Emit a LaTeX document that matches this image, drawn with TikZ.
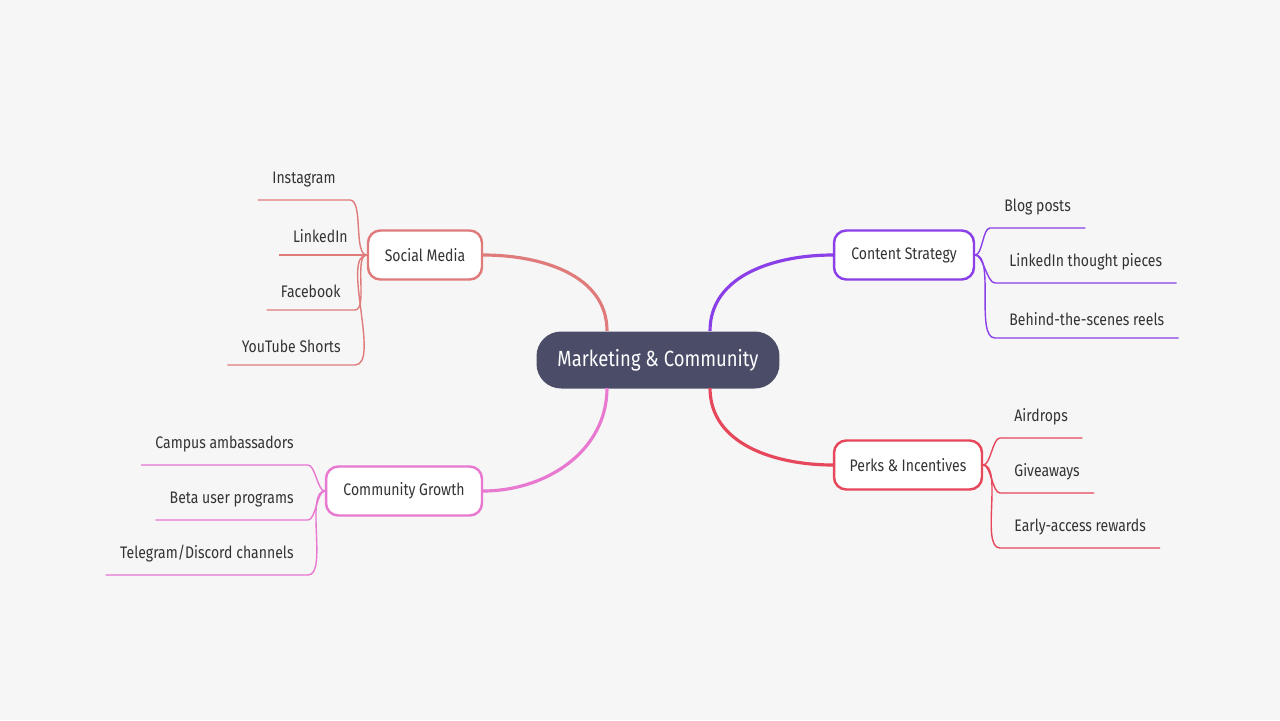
\documentclass[tikz,border=0pt]{standalone}
\usepackage{fontspec}
\setmainfont{Fira Sans}[FakeStretch=0.84]
\usetikzlibrary{positioning}
\definecolor{bgc}{HTML}{F6F6F6}
\definecolor{hubc}{HTML}{4A4C68}
\definecolor{socc}{HTML}{E07B7B}
\definecolor{conc}{HTML}{8A3FE8}
\definecolor{perc}{HTML}{E6475A}
\definecolor{comc}{HTML}{E878D0}
\definecolor{txtc}{HTML}{333333}
\tikzset{
  hub/.style={fill=hubc, text=white, rounded corners=14pt, minimum width=4.86cm, minimum height=1.14cm, font=\fontsize{12.5}{14}\selectfont},
  topic/.style={draw=#1, line width=1.4pt, fill=white, rounded corners=7pt, minimum height=0.98cm, inner xsep=8pt, text=txtc, font=\fontsize{9.5}{11}\selectfont},
  leaf/.style={text=txtc, inner xsep=8pt, inner ysep=7pt, font=\fontsize{9.5}{11}\selectfont},
  branch/.style={draw=#1, line width=1.8pt},
  twig/.style={draw=#1, line width=0.8pt, looseness=0.6}
}
\begin{document}
\begin{tikzpicture}[x=0.02cm, y=-0.02cm]
    \fill[bgc] (0,0) rectangle (1280,720);
    \useasboundingbox (0,0) rectangle (1280,720);

    \node[hub] (hub) at (658,360) {Marketing \& Community};

    % topics
    \node[topic=socc, minimum width=2.28cm] (social) at (425,255) {Social Media};
    \node[topic=conc, minimum width=2.8cm] (content) at (904,255) {Content Strategy};
    \node[topic=perc, minimum width=2.96cm] (perks) at (908,465) {Perks \& Incentives};
    \node[topic=comc, minimum width=3.12cm] (growth) at (404,491) {Community Growth};

    \draw[branch=socc] (607,331) to[out=90,in=0] (social.east);
    \draw[branch=conc] (710,331) to[out=90,in=180] (content.west);
    \draw[branch=perc] (710,388) to[out=-90,in=180] (perks.west);
    \draw[branch=comc] (607,388) to[out=-90,in=0] (growth.east);

    % social media leaves
    \node[leaf, anchor=south east] (insta) at (350,200) {Instagram};
    \node[leaf, anchor=south east] (linkd) at (362,255) {LinkedIn};
    \node[leaf, anchor=south east] (faceb) at (355,310) {Facebook};
    \node[leaf, anchor=south east] (ytube) at (355,365) {YouTube Shorts};
    \foreach \l in {insta,linkd,faceb,ytube}
      \draw[twig=socc] (social.west) to[out=180,in=0] (\l.south east) -- (\l.south west);

    % content strategy leaves
    \node[leaf, anchor=south west] (blog) at (990,228) {Blog posts};
    \node[leaf, anchor=south west] (pieces) at (995,283) {LinkedIn thought pieces};
    \node[leaf, anchor=south west] (reels) at (995,338) {Behind-the-scenes reels};
    \foreach \l in {blog,pieces,reels}
      \draw[twig=conc] (content.east) to[out=0,in=180] (\l.south west) -- (\l.south east);

    % perks leaves
    \node[leaf, anchor=south west] (air) at (1000,438) {Airdrops};
    \node[leaf, anchor=south west] (give) at (1000,493) {Giveaways};
    \node[leaf, anchor=south west] (early) at (1000,548) {Early-access rewards};
    \foreach \l in {air,give,early}
      \draw[twig=perc] (perks.east) to[out=0,in=180] (\l.south west) -- (\l.south east);

    % community growth leaves
    \node[leaf, anchor=south east] (campus) at (308,465) {Campus ambassadors};
    \node[leaf, anchor=south east] (beta) at (308,520) {Beta user programs};
    \node[leaf, anchor=south east] (tele) at (308,575) {Telegram/Discord channels};
    \foreach \l in {campus,beta,tele}
      \draw[twig=comc] (growth.west) to[out=180,in=0] (\l.south east) -- (\l.south west);
\end{tikzpicture}
\end{document}
